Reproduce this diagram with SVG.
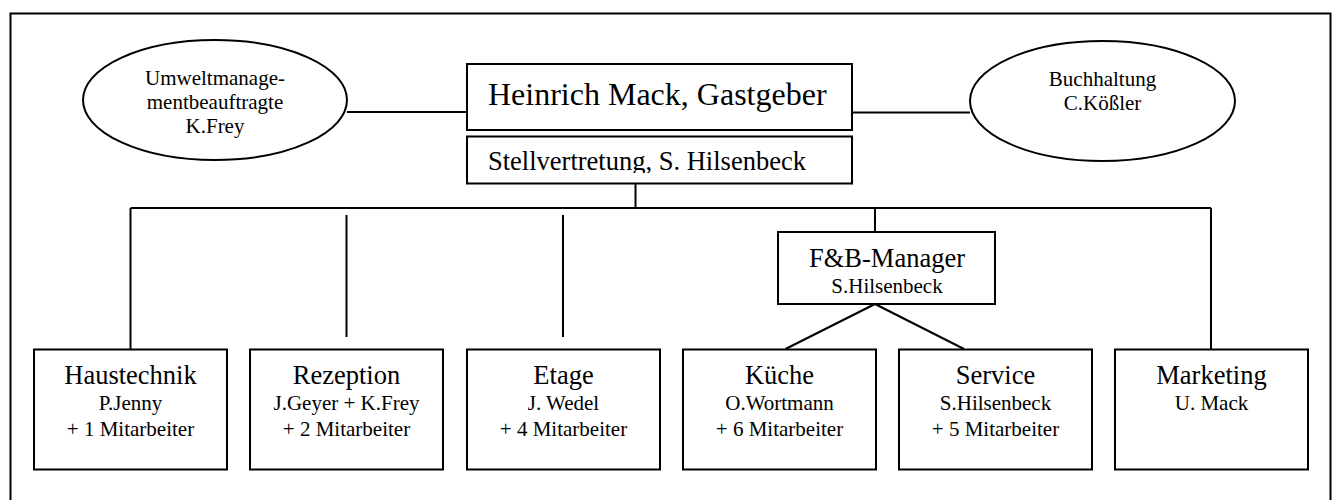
<svg xmlns="http://www.w3.org/2000/svg" width="1338" height="500" viewBox="0 0 1338 500">
<style>
.s{fill:none;stroke:#000;stroke-width:2}
.b{fill:#fff;stroke:#000;stroke-width:2}
text{font-family:"Liberation Serif","Times New Roman",serif;fill:#000;text-anchor:middle}
.t{font-size:26.5px}
.n{font-size:21px}
</style>
<defs>
<clipPath id="stclip"><rect x="467" y="137" width="385" height="36"/></clipPath>
</defs>
<rect x="0" y="0" width="1338" height="500" fill="#fff"/>
<rect class="s" x="10.5" y="13.5" width="1320" height="520"/>
<g id="connectors">
<path class="s" d="M347 112H467"/>
<path class="s" d="M852 112.5H970"/>
<path class="s" d="M635.5 184V208"/>
<path class="s" d="M130.5 208H1211"/>
<path class="s" d="M130.5 208V349"/>
<path class="s" d="M346.5 215V337"/>
<path class="s" d="M563 215V337"/>
<path class="s" d="M875 208V232"/>
<path class="s" d="M1211 208V349"/>
<path class="s" d="M875 304L785.5 349"/>
<path class="s" d="M875 304L964 349"/>
</g>
<g id="umwelt">
<ellipse class="b" cx="215" cy="100" rx="132" ry="60"/>
<text class="n" x="215" y="85">Umweltmanage-</text>
<text class="n" x="215" y="109">mentbeauftragte</text>
<text class="n" x="215" y="133">K.Frey</text>
</g>
<g id="buchhaltung">
<ellipse class="b" cx="1102.5" cy="101" rx="132.5" ry="60"/>
<text class="n" x="1102.5" y="86">Buchhaltung</text>
<text class="n" x="1102.5" y="110">C.Kößler</text>
</g>
<g id="gastgeber">
<rect class="b" x="467" y="64" width="385" height="66"/>
<text x="488" y="105" style="font-size:32px;text-anchor:start">Heinrich Mack, Gastgeber</text>
</g>
<g id="stellvertretung">
<rect class="b" x="467" y="136.5" width="385" height="47"/>
<text x="488" y="170" clip-path="url(#stclip)" style="font-size:26.5px;text-anchor:start">Stellvertretung, S. Hilsenbeck</text>
</g>
<g id="fb">
<rect class="b" x="778" y="232" width="217" height="72"/>
<text class="t" x="887" y="266.5">F&amp;B-Manager</text>
<text class="n" x="887" y="292.5">S.Hilsenbeck</text>
</g>
<g id="haustechnik">
<rect class="b" x="34" y="349.5" width="193" height="120"/>
<text class="t" x="130.5" y="384">Haustechnik</text>
<text class="n" x="130.5" y="410">P.Jenny</text>
<text class="n" x="130.5" y="436">+ 1 Mitarbeiter</text>
</g>
<g id="rezeption">
<rect class="b" x="250" y="349.5" width="193" height="120"/>
<text class="t" x="346.5" y="384">Rezeption</text>
<text class="n" x="346.5" y="410">J.Geyer + K.Frey</text>
<text class="n" x="346.5" y="436">+ 2 Mitarbeiter</text>
</g>
<g id="etage">
<rect class="b" x="467" y="349.5" width="193" height="120"/>
<text class="t" x="563.5" y="384">Etage</text>
<text class="n" x="563.5" y="410">J. Wedel</text>
<text class="n" x="563.5" y="436">+ 4 Mitarbeiter</text>
</g>
<g id="kueche">
<rect class="b" x="683" y="349.5" width="193" height="120"/>
<text class="t" x="779.5" y="384">Küche</text>
<text class="n" x="779.5" y="410">O.Wortmann</text>
<text class="n" x="779.5" y="436">+ 6 Mitarbeiter</text>
</g>
<g id="service">
<rect class="b" x="899" y="349.5" width="193" height="120"/>
<text class="t" x="995.5" y="384">Service</text>
<text class="n" x="995.5" y="410">S.Hilsenbeck</text>
<text class="n" x="995.5" y="436">+ 5 Mitarbeiter</text>
</g>
<g id="marketing">
<rect class="b" x="1115" y="349.5" width="193" height="120"/>
<text class="t" x="1211.5" y="384">Marketing</text>
<text class="n" x="1211.5" y="410">U. Mack</text>
</g>
</svg>
